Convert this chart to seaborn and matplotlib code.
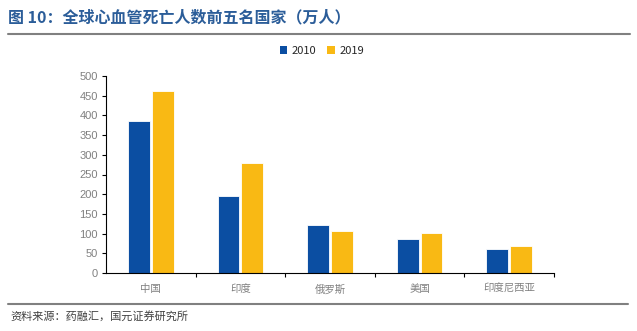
import matplotlib
matplotlib.use("Agg")
import matplotlib.pyplot as plt
import seaborn as sns
import pandas as pd
from matplotlib.lines import Line2D
from matplotlib.patches import Patch

countries = ["中国", "印度", "俄罗斯", "美国", "印度尼西亚"]
v2010 = [386, 195, 122, 86, 60]
v2019 = [462, 279, 106, 102, 68]
years = ["2010", "2019"]
colors = ["#0B4EA2", "#F9B914"]
yticks = [0, 50, 100, 150, 200, 250, 300, 350, 400, 450, 500]

df = pd.DataFrame({
    "country": countries * 2,
    "value": v2010 + v2019,
    "year": [years[0]] * len(countries) + [years[1]] * len(countries),
})

sns.set_style("white")
plt.rcParams["font.family"] = ["Noto Sans CJK SC", "DejaVu Sans"]

fig = plt.figure(figsize=(6.37, 3.31), dpi=100)
ax = fig.add_axes([106/637, 1-273/331, 448/637, 197/331])

sns.barplot(data=df, x="country", y="value", hue="year", palette=colors,
            saturation=1, width=0.53, gap=0.08, ax=ax, legend=False,
            edgecolor="white", linewidth=0.6)

ax.set_ylim(0, 500)
ax.set_xlim(-0.5, len(countries) - 0.5)
ax.set_yticks(yticks)
ax.set_yticklabels([str(t) for t in yticks], fontsize=8, color="#808080",
                   family=["Liberation Sans", "DejaVu Sans"])
ax.set_xticks(range(len(countries)))
ax.set_xticklabels(countries, fontsize=7.5, color="#808080")
ax.tick_params(axis="x", length=0, pad=8)
ax.tick_params(axis="y", length=3, width=0.8, color="black", direction="out", pad=3, left=True)
# category boundary ticks on x axis
ax.set_xticks([i + 0.5 for i in range(len(countries))], minor=True)
ax.tick_params(axis="x", which="minor", length=3, width=0.8, color="black", direction="out", bottom=True)
ax.set_xlabel("")
ax.set_ylabel("")
for s in ["top", "right"]:
    ax.spines[s].set_visible(False)
for s in ["left", "bottom"]:
    ax.spines[s].set_color("black")
    ax.spines[s].set_linewidth(0.8)

handles = [Patch(facecolor=c, edgecolor="none") for c in colors]
fig.legend(handles, years, loc="center", bbox_to_anchor=(322/637, 1-51/331),
           ncol=2, frameon=False, fontsize=8, handlelength=0.7, handleheight=0.7,
           columnspacing=1.0, handletextpad=0.4)

fig.text(8/637, 1-17/331, "图 10：全球心血管死亡人数前五名国家（万人）",
         fontsize=11.5, fontweight="bold", color="#2B5D99", va="center", ha="left")
fig.add_artist(Line2D([8/637, 630/637], [1-34/331, 1-34/331], color="#808080", lw=1.5))
fig.add_artist(Line2D([8/637, 628/637], [1-304/331, 1-304/331], color="#808080", lw=1.5))
fig.text(10/637, 1-316/331, "资料来源：药融汇，国元证券研究所", fontsize=8,
         color="#404040", va="center", ha="left")

fig.savefig("out.png", dpi=100)
